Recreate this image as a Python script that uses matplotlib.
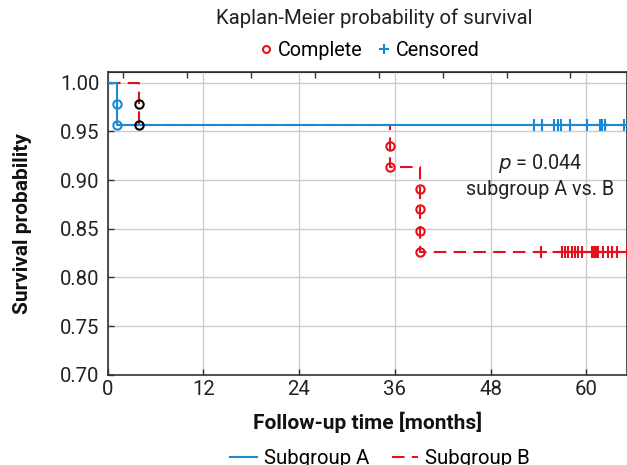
import numpy as np
import matplotlib.pyplot as plt
from matplotlib.lines import Line2D

plt.rcParams['font.family'] = ['Roboto', 'DejaVu Sans']

# ---- data ----
# Kaplan-Meier step curves (time in months, survival)
a_step_t = [0, 1.2, 65.5]
a_step_s = [1.0, 0.9565, 0.9565]
b_step_t = [0, 3.9, 35.4, 39.2, 65.5]
b_step_s = [1.0, 0.9565, 0.913, 0.826, 0.826]

# event markers (complete)
a_event_t = [1.2, 1.2]
a_event_s = [0.978, 0.9565]
b_event_black_t = [3.9, 3.9]
b_event_black_s = [0.978, 0.9565]
b_event_t = [35.4, 35.4, 39.2, 39.2, 39.2, 39.2]
b_event_s = [0.935, 0.913, 0.891, 0.870, 0.848, 0.826]

# censored marks
a_cens_t = [53.5, 54.4, 55.9, 56.4, 56.8, 57.9, 60.1, 61.7, 62.0, 62.3, 64.7]
a_cens_s = 0.9565
b_cens_t = [54.3, 56.9, 57.3, 57.7, 58.2, 58.6, 59.0, 59.4, 60.7, 61.0, 61.2,
            61.5, 62.1, 62.7, 63.2, 63.8, 65.1]
b_cens_s = 0.826

x_ticks = [0, 12, 24, 36, 48, 60]
y_ticks = [0.70, 0.75, 0.80, 0.85, 0.90, 0.95, 1.00]
top_ticks = [2, 10, 18, 26, 34, 42, 50, 58]

blue = '#1a8ad4'
red = '#e5101c'
dashes = (6, 3.5)
fs = 14.7

fig = plt.figure(figsize=(6.27, 4.65), dpi=100)
ax = fig.add_axes([0.1715, 0.194, 0.8285, 0.651])

ax.step(a_step_t, a_step_s, where='post', color=blue, lw=1.5, zorder=3)
ax.step(b_step_t, b_step_s, where='post', color=red, lw=1.5,
        dashes=dashes, zorder=2)

ax.plot(a_event_t, a_event_s, 'o', mfc='none', mec=blue, ms=6, mew=1.5, zorder=4)
ax.plot(b_event_black_t, b_event_black_s, 'o', mfc='none', mec='black',
        ms=6, mew=1.5, zorder=4)
ax.plot(b_event_t, b_event_s, 'o', mfc='none', mec=red, ms=6, mew=1.5, zorder=4)

ax.plot(a_cens_t, [a_cens_s] * len(a_cens_t), '+', color=blue, ms=9, mew=1.5,
        zorder=4, clip_on=False)
ax.plot(b_cens_t, [b_cens_s] * len(b_cens_t), '+', color=red, ms=9, mew=1.5,
        zorder=4, clip_on=False)

ax.set_xlim(0, 65.1)
ax.set_ylim(0.70, 1.011)
ax.set_xticks(x_ticks)
ax.set_yticks(y_ticks)
ax.set_yticklabels([f'{v:.2f}' for v in y_ticks])
ax.grid(True, color='#cccccc', lw=1)
ax.set_axisbelow(True)
ax.tick_params(direction='in', length=4, width=1, color='#333333',
               labelsize=fs, labelcolor='#222222')
ax.tick_params(axis='y', pad=6)
ax.tick_params(axis='x', pad=4)
for s in ax.spines.values():
    s.set_color('#333333')
    s.set_linewidth(1.2)

sec = ax.secondary_xaxis('top')
sec.set_xticks(top_ticks)
sec.set_xticklabels([])
sec.tick_params(direction='in', length=4, width=1, color='#333333')

ax.set_xlabel('Follow-up time [months]', fontsize=15, fontweight='bold',
              color='#111111', labelpad=9)
ax.set_ylabel('Survival probability', fontsize=15, fontweight='bold',
              color='#111111', labelpad=20)

ax.text(54.2, 0.917, r'$\it{p}$ = 0.044', fontsize=14.2, ha='center',
        va='center', color='#222222')
ax.text(54.2, 0.890, 'subgroup A vs. B', fontsize=14.2, ha='center',
        va='center', color='#222222')

fig.text(0.597, 0.96, 'Kaplan-Meier probability of survival', fontsize=fs,
         ha='center', va='center', color='#222222')

top_handles = [
    Line2D([], [], ls='none', marker='o', mfc='none', mec=red, ms=5, mew=1.5),
    Line2D([], [], ls='none', marker='+', color=blue, ms=7, mew=1.5),
]
fig.legend(top_handles, ['Complete', 'Censored'], loc='center',
           bbox_to_anchor=(0.59, 0.892), ncol=2, frameon=False, fontsize=14.2,
           handlelength=0.6, handletextpad=0.3, columnspacing=0.8)

bottom_handles = [
    Line2D([], [], color=blue, lw=1.5),
    Line2D([], [], color=red, lw=1.5, dashes=dashes),
]
fig.legend(bottom_handles, ['Subgroup A', 'Subgroup B'], loc='center',
           bbox_to_anchor=(0.606, 0.013), ncol=2, frameon=False, fontsize=fs,
           handlelength=1.3, handletextpad=0.35, columnspacing=1.1)

fig.savefig('out.png', dpi=100)
